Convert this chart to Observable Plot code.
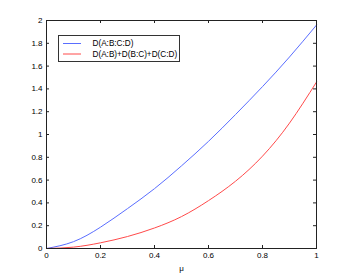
<!DOCTYPE html>
<html>
<head>
<meta charset="utf-8">
<script src="https://cdn.jsdelivr.net/npm/d3@7"></script>
<script src="https://cdn.jsdelivr.net/npm/@observablehq/plot@0.6"></script>
<style>
  html, body { margin: 0; padding: 0; background: #fff; }
  #chart { position: relative; width: 349px; height: 279px; }
  svg { font-family: "Liberation Sans", Arial, sans-serif; }
</style>
</head>
<body>
<div id="chart"></div>
<script>
const mu = [0, 0.1, 0.2, 0.3, 0.4, 0.5, 0.6, 0.7, 0.8, 0.9, 1.0];
const seriesABCD = [0, 0.06, 0.187, 0.35, 0.525, 0.725, 0.94, 1.175, 1.42, 1.68, 1.96];
const seriesSum  = [0, 0.012, 0.05, 0.105, 0.18, 0.28, 0.42, 0.59, 0.81, 1.10, 1.46];
const seriesNames = ["D(A:B:C:D)", "D(A:B)+D(B:C)+D(C:D)"];
const seriesColors = ["#5a6eff", "#ff4a4a"];
const xTicks = [0, 0.2, 0.4, 0.6, 0.8, 1];
const yTicks = [0, 0.2, 0.4, 0.6, 0.8, 1, 1.2, 1.4, 1.6, 1.8, 2];
const xLabel = "μ";

const data = [];
mu.forEach((m, i) => {
  data.push({mu: m, v: seriesABCD[i], s: seriesNames[0]});
  data.push({mu: m, v: seriesSum[i], s: seriesNames[1]});
});

const fmt = d => String(d);
const W = 349, H = 279, mL = 46, mR = 33, mT = 20, mB = 31;
const innerH = H - mT - mB, innerW = W - mL - mR;
const tk = 3;

const chart = Plot.plot({
  width: W, height: H,
  marginLeft: mL, marginRight: mR, marginTop: mT, marginBottom: mB,
  style: {fontSize: "8px", fontFamily: "Liberation Sans, Arial, sans-serif", color: "#000", background: "#fff"},
  x: {domain: [0, 1]},
  y: {domain: [0, 2]},
  color: {domain: seriesNames, range: seriesColors},
  marks: [
    Plot.line(data, {x: "mu", y: "v", z: "s", stroke: "s", strokeWidth: 1, curve: "natural"}),
    Plot.tickX(xTicks, {x: d => d, insetTop: innerH - tk, stroke: "#222"}),
    Plot.tickX(xTicks, {x: d => d, insetBottom: innerH - tk, stroke: "#222"}),
    Plot.tickY(yTicks, {y: d => d, insetRight: innerW - tk, stroke: "#222"}),
    Plot.tickY(yTicks, {y: d => d, insetLeft: innerW - tk, stroke: "#222"}),
    Plot.frame({stroke: "#222", strokeWidth: 1}),
    Plot.axisX(xTicks, {tickSize: 0, tickPadding: 4, tickFormat: fmt, label: xLabel, labelAnchor: "center", labelOffset: 22, labelArrow: "none"}),
    Plot.axisY(yTicks, {tickSize: 0, tickPadding: 4, tickFormat: fmt, label: null})
  ]
});

const svg = d3.select(chart);
const lg = svg.append("g").attr("font-size", 8.2).attr("font-family", "Liberation Sans, Arial, sans-serif").attr("text-anchor", "start");
lg.append("rect").attr("x", 58.5).attr("y", 35.5).attr("width", 121).attr("height", 26)
  .attr("fill", "#fff").attr("stroke", "#333").attr("stroke-width", 1);
seriesNames.forEach((name, i) => {
  const y = 43.5 + i * 10.5;
  lg.append("path").attr("d", `M63,${y}H81`).attr("fill", "none")
    .style("stroke", seriesColors[i]).style("stroke-width", "1px");
  lg.append("text").attr("x", 92.5).attr("y", y).attr("dy", "0.35em").attr("text-anchor", "start").attr("fill", "#000").text(name);
});

document.getElementById("chart").appendChild(chart);
</script>
</body>
</html>
